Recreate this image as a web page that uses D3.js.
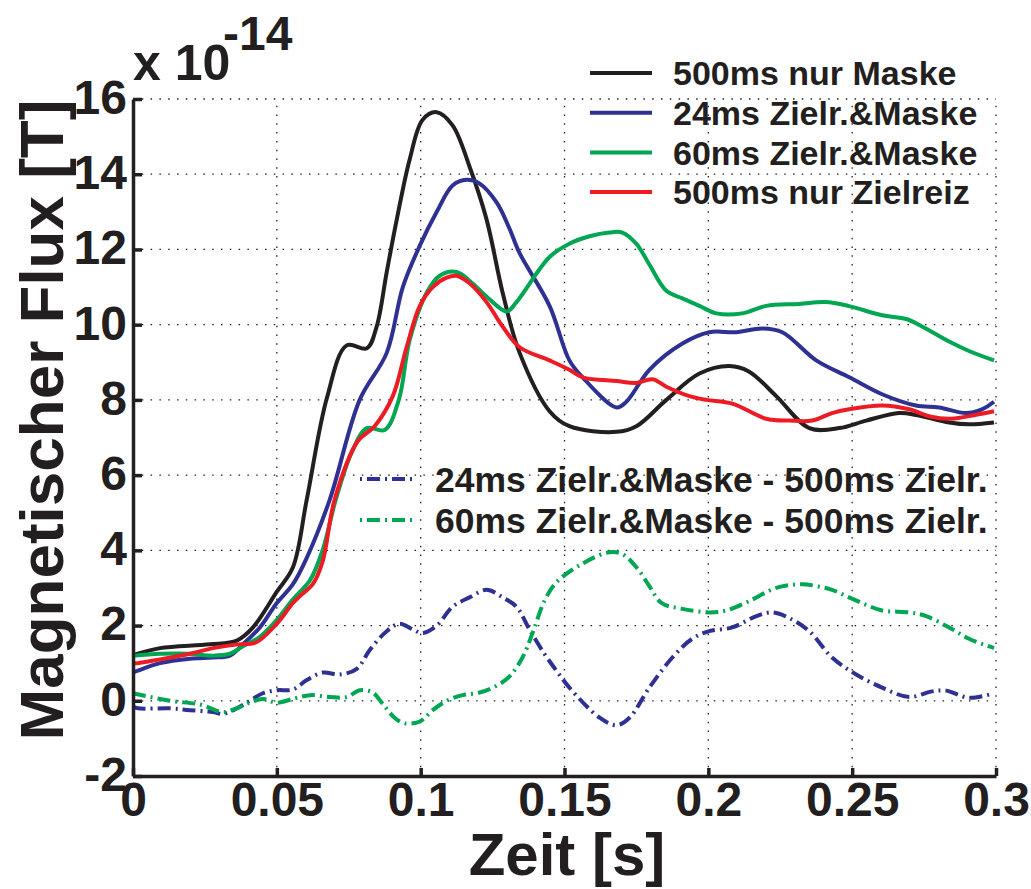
<!DOCTYPE html>
<html>
<head>
<meta charset="utf-8">
<script src="https://cdn.jsdelivr.net/npm/d3@7"></script>
<style>
  html, body { margin: 0; padding: 0; background: #fff; }
  svg text { font-family: "Liberation Sans", Arial, Helvetica, sans-serif; font-weight: bold; fill: #231f20; }
</style>
</head>
<body>
<svg id="chart" width="1031" height="889"></svg>
<script>
// Time axis in milliseconds, flux in units of 1e-14 T
const xTicks = [0, 0.05, 0.1, 0.15, 0.2, 0.25, 0.3];
const xTickLabels = ["0", "0.05", "0.1", "0.15", "0.2", "0.25", "0.3"];
const yTicks = [-2, 0, 2, 4, 6, 8, 10, 12, 14, 16];
const yTickLabels = ["-2", "0", "2", "4", "6", "8", "10", "12", "14", "16"];

// 500ms nur Maske
const maskT = [0, 1.7, 9.4, 26.7, 36.1, 41.7, 50, 55.6, 60.4, 67.4, 74.3, 81.3, 84.7, 88.2, 91.7, 96.2, 100.7, 105.6, 111.1, 117, 122.9, 128.5, 134.4, 144.8, 151.7, 168.1, 175, 185.4, 196.9, 207.3, 214.2, 223.6, 235.1, 245.5, 254.9, 266.3, 272.2, 283.7, 290.6, 299.3];
const maskV = [1.2, 1.25, 1.4, 1.5, 1.6, 1.95, 2.9, 3.55, 5.35, 8.05, 9.45, 9.37, 9.95, 11.4, 12.8, 14.4, 15.45, 15.65, 15.3, 14.2, 12.8, 10.85, 9.25, 7.7, 7.3, 7.15, 7.3, 8.0, 8.7, 8.9, 8.75, 8.1, 7.25, 7.25, 7.45, 7.65, 7.6, 7.4, 7.35, 7.4];

// 24ms Zielreiz & Maske
const t24T = [0, 1.7, 9.4, 19.8, 27.8, 33.7, 38.2, 44.1, 50, 55.6, 60.4, 68.4, 78.8, 88.2, 93.8, 99.7, 105.6, 111.1, 116, 120.5, 126.4, 130.9, 134.4, 144.8, 151.7, 156.3, 168.1, 171.5, 179.5, 191, 200.3, 209.7, 218.8, 225.7, 237.5, 249, 260.4, 272.2, 280.2, 289.6, 295.1, 299.3];
const t24V = [0.75, 0.8, 1.0, 1.12, 1.15, 1.2, 1.5, 1.95, 2.6, 3.1, 3.8, 5.35, 8.0, 9.25, 11.0, 12.1, 13.0, 13.7, 13.85, 13.75, 13.25, 12.55, 11.9, 10.5, 9.05, 8.6, 7.8, 7.95, 8.8, 9.5, 9.8, 9.8, 9.9, 9.8, 9.05, 8.6, 8.15, 7.85, 7.8, 7.65, 7.75, 7.95];

// 60ms Zielreiz & Maske
const t60T = [0, 9.4, 19.8, 27.8, 33.7, 38.2, 44.1, 50, 55.6, 61.5, 65.9, 70.5, 76, 81.3, 87.5, 92.4, 96.2, 102.1, 106.6, 112.5, 118, 122.9, 129.9, 133.3, 144.8, 151.7, 158.7, 165.6, 170.1, 175, 179.5, 185.4, 191, 196.9, 202.8, 211.8, 220.1, 231.6, 240.6, 248.6, 260.4, 268.8, 274.3, 283.7, 290.6, 299.3];
const t60V = [1.2, 1.25, 1.25, 1.2, 1.25, 1.45, 1.7, 2.15, 2.7, 3.2, 4.0, 5.35, 6.6, 7.25, 7.2, 8.0, 9.6, 10.85, 11.3, 11.4, 11.1, 10.75, 10.35, 10.6, 11.8, 12.15, 12.35, 12.45, 12.45, 12.15, 11.6, 10.9, 10.7, 10.5, 10.3, 10.3, 10.5, 10.55, 10.6, 10.5, 10.25, 10.15, 9.95, 9.55, 9.3, 9.05];

// 500ms nur Zielreiz
const targetT = [0, 1.7, 9.4, 19.8, 27.8, 36.5, 42.7, 50, 55.6, 59.0, 62.5, 65.9, 70.1, 78.1, 84, 90.3, 95.1, 99.7, 104.2, 109, 112.5, 117, 122.9, 128.5, 134.4, 144.8, 151.7, 156.3, 168.1, 175, 180.6, 185.4, 193.4, 199.3, 208.3, 220.1, 228.1, 236.1, 243, 248.9, 260.4, 269.8, 277.4, 284.4, 292.7, 299.3];
const targetV = [1.0, 1.0, 1.1, 1.25, 1.4, 1.5, 1.55, 2.05, 2.6, 2.85, 3.1, 3.7, 5.35, 6.9, 7.3, 8.1, 9.4, 10.5, 11.0, 11.25, 11.3, 11.1, 10.6, 9.95, 9.4, 9.05, 8.8, 8.6, 8.5, 8.45, 8.55, 8.35, 8.1, 8.0, 7.9, 7.5, 7.45, 7.45, 7.65, 7.75, 7.85, 7.75, 7.55, 7.5, 7.6, 7.7];

// Difference 24ms Zielr.&Maske - 500ms Zielr.
const diff24T = [0, 1.7, 12.8, 19.8, 27.8, 31.3, 36.1, 40.6, 45.1, 50, 55.6, 60.4, 65.9, 71.9, 77.8, 82.3, 88.2, 92.7, 97.2, 100.7, 105.6, 111.1, 117, 122.9, 128.5, 133.3, 137.8, 143, 147.2, 151.7, 162.2, 168.1, 172.6, 179.5, 187.5, 194.4, 200.3, 208.3, 216.7, 222.2, 228.1, 235.1, 243, 251.4, 260.4, 269.8, 277.8, 282.6, 290.6, 299.3];
const diff24V = [-0.15, -0.2, -0.2, -0.25, -0.3, -0.35, -0.2, 0.0, 0.2, 0.28, 0.3, 0.55, 0.75, 0.7, 0.85, 1.35, 1.85, 2.05, 1.9, 1.8, 2.0, 2.5, 2.75, 2.95, 2.75, 2.5, 1.9, 1.25, 0.8, 0.35, -0.45, -0.65, -0.45, 0.35, 1.15, 1.65, 1.85, 1.95, 2.25, 2.35, 2.2, 1.85, 1.15, 0.7, 0.35, 0.1, 0.25, 0.27, 0.08, 0.2];

// Difference 60ms Zielr.&Maske - 500ms Zielr.
const diff60T = [0, 12.8, 23.3, 31.3, 36.1, 40.6, 45.1, 50, 55.6, 61.5, 68.4, 74.3, 78.8, 83.3, 86.8, 90.9, 94.4, 99.7, 104.2, 109, 114.6, 120.5, 126.4, 130.9, 135.4, 138.9, 143, 147.2, 156.3, 165.6, 170.1, 175, 179.5, 183.7, 190.6, 200.3, 206.2, 214.2, 223.6, 232.6, 237.5, 243, 248.9, 254.9, 260.4, 269.8, 275.7, 283.7, 290.6, 299.3];
const diff60V = [0.2, 0.0, -0.1, -0.3, -0.2, -0.05, 0.05, -0.05, 0.05, 0.15, 0.1, 0.1, 0.28, 0.22, -0.08, -0.45, -0.6, -0.55, -0.25, 0.0, 0.15, 0.22, 0.4, 0.65, 1.15, 1.8, 2.65, 3.15, 3.65, 3.95, 3.9, 3.55, 3.05, 2.6, 2.45, 2.35, 2.4, 2.65, 3.0, 3.1, 3.05, 2.95, 2.75, 2.55, 2.4, 2.35, 2.25, 1.95, 1.65, 1.4];

const solidSeries = [
  { name: "500ms nur Maske", t: maskT, v: maskV, color: "#231f20" },
  { name: "24ms Zielr.&Maske", t: t24T, v: t24V, color: "#2e3192" },
  { name: "60ms Zielr.&Maske", t: t60T, v: t60V, color: "#00a651" },
  { name: "500ms nur Zielreiz", t: targetT, v: targetV, color: "#ed1c24" }
];
const diffSeries = [
  { name: "24ms Zielr.&Maske - 500ms Zielr.", t: diff24T, v: diff24V, color: "#2e3192" },
  { name: "60ms Zielr.&Maske - 500ms Zielr.", t: diff60T, v: diff60V, color: "#00a651" }
];

const svg = d3.select("#chart");
const x = d3.scaleLinear().domain([0, 0.3]).range([133, 996]);
const y = d3.scaleLinear().domain([-2, 16]).range([776, 99]);
const ink = "#231f20";

// dotted grid
const grid = svg.append("g");
grid.selectAll("line.gx").data(xTicks.slice(1)).join("line")
  .attr("x1", d => x(d)).attr("x2", d => x(d))
  .attr("y1", y(-2)).attr("y2", y(16))
  .attr("stroke", ink).attr("stroke-width", 1.3).attr("stroke-dasharray", "1.5,7.3");
grid.selectAll("line.gy").data(yTicks.slice(1)).join("line")
  .attr("x1", x(0)).attr("x2", x(0.3))
  .attr("y1", d => y(d)).attr("y2", d => y(d))
  .attr("stroke", ink).attr("stroke-width", 1.3).attr("stroke-dasharray", "1.5,7.3");

// curves
const line = d3.line()
  .x(d => x(d[0] / 1000))
  .y(d => y(d[1]))
  .curve(d3.curveCatmullRom.alpha(0.5));
const pts = s => s.t.map((t, i) => [t, s.v[i]]);

const curves = svg.append("g").attr("fill", "none").attr("stroke-linejoin", "round");
diffSeries.forEach(s => {
  curves.append("path").attr("d", line(pts(s)))
    .attr("stroke", s.color).attr("stroke-width", 4)
    .attr("stroke-dasharray", "13,5,2,5");
});
solidSeries.forEach(s => {
  curves.append("path").attr("d", line(pts(s)))
    .attr("stroke", s.color).attr("stroke-width", 4);
});

// axes
const fmtX = d => xTickLabels[xTicks.indexOf(d)];
const fmtY = d => yTickLabels[yTicks.indexOf(d)];
const gx = svg.append("g").attr("transform", `translate(0,${y(-2)})`)
  .call(d3.axisBottom(x).tickValues(xTicks).tickFormat(fmtX).tickSizeInner(-8).tickSizeOuter(0).tickPadding(6));
const gy = svg.append("g").attr("transform", `translate(${x(0)},0)`)
  .call(d3.axisLeft(y).tickValues(yTicks).tickFormat(fmtY).tickSizeInner(-9).tickSizeOuter(0).tickPadding(6));
[gx, gy].forEach(g => {
  g.select(".domain").attr("stroke", ink).attr("stroke-width", 3.5);
  g.selectAll(".tick line").attr("stroke", ink).attr("stroke-width", 3.5);
  g.selectAll(".tick text").attr("font-size", 48).attr("fill", ink)
    .attr("font-family", "'Liberation Sans', Arial, sans-serif").attr("font-weight", "bold");
});
gy.selectAll(".tick text").attr("dy", "0.3em");

// exponent label
svg.append("text").attr("x", 133).attr("y", 80).attr("font-size", 50).text("x 10");
svg.append("text").attr("x", 223).attr("y", 50).attr("font-size", 48).text("-14");

// axis titles
svg.append("text").attr("x", 567).attr("y", 875).attr("text-anchor", "middle")
  .attr("font-size", 60).text("Zeit [s]");
svg.append("text").attr("transform", "translate(63,420) rotate(-90)").attr("text-anchor", "middle")
  .attr("font-size", 62).text("Magnetischer Flux [T]");

// legend for solid curves
const leg1 = svg.append("g");
solidSeries.forEach((s, i) => {
  const ly = 73 + i * 39.7;
  leg1.append("line").attr("x1", 590).attr("x2", 652).attr("y1", ly).attr("y2", ly)
    .attr("stroke", s.color).attr("stroke-width", 4);
  leg1.append("text").attr("x", 673).attr("y", ly).attr("dy", "0.36em")
    .attr("font-size", 34).text(s.name);
});

// legend for difference curves
const leg2 = svg.append("g");
diffSeries.forEach((s, i) => {
  const ly = 479 + i * 41;
  leg2.append("line").attr("x1", 360).attr("x2", 413).attr("y1", ly).attr("y2", ly)
    .attr("stroke", s.color).attr("stroke-width", 4).attr("stroke-dasharray", "2,5,13,5");
  leg2.append("text").attr("x", 435).attr("y", ly).attr("dy", "0.36em")
    .attr("font-size", 35.5).text(s.name);
});
</script>
</body>
</html>
